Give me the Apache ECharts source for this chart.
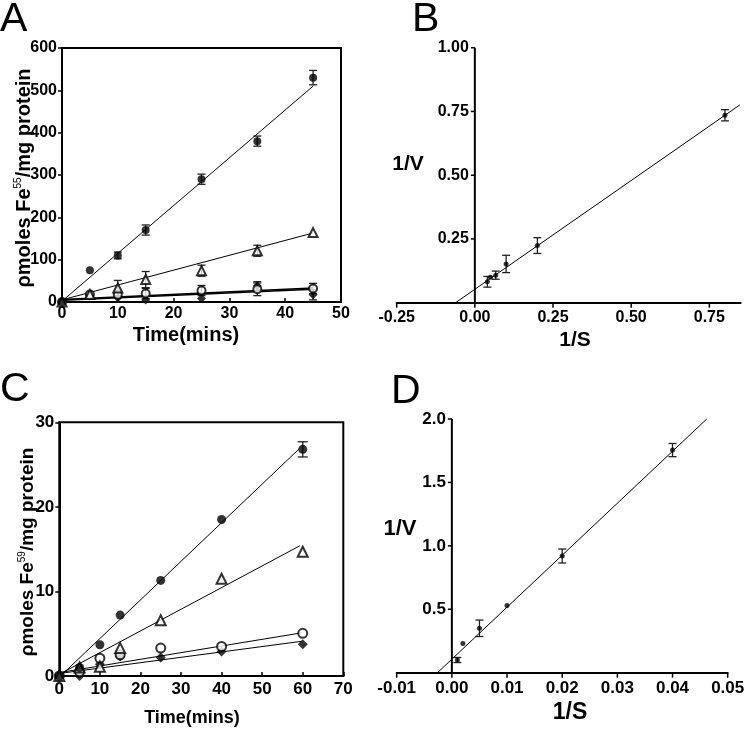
<!DOCTYPE html>
<html>
<head>
<meta charset="utf-8">
<script src="https://cdn.jsdelivr.net/npm/echarts@6/dist/echarts.min.js"></script>
<style>html,body{margin:0;padding:0;background:#fff}#c{width:745px;height:731px}</style>
</head>
<body>
<div id="c"></div>
<script>
// ---------- Panel A (Fe55 uptake vs time) ----------
const timeA = [0, 5, 10, 15, 25, 35, 45];
const aFilledCircle = [0, 75, 110, 170, 290, 380, 530];
const aFilledCircleErr = [0, 0, 8, 12, 12, 12, 17];
const aOpenTriangle = [0, 18, 33, 53, 74, 121, 164];
const aOpenTriangleErr = [0, 0, 18, 19, 13, 13, 0];
const aOpenCircle = [0, 18, 17, 20, 27, 30, 32];
const aOpenCircleErr = [0, 0, 0, 12, 12, 15, 12];
const aFilledDiamond = [0, 15, 10, 5, 8, 38, 17];
const aFilledDiamondErr = [0, 0, 0, 0, 0, 10, 12];
const aFitX = [0, 45];
const aFitFilledCircle = [2, 510];
const aFitOpenTriangle = [5, 163];
const aFitOpenCircle = [6, 33];
const aFitFilledDiamond = [4, 30];

// ---------- Panel B (Lineweaver-Burk, Fe55) ----------
const bInvS = [0.04, 0.05, 0.0667, 0.1, 0.2, 0.8];
const bInvV = [0.082, 0.10, 0.108, 0.152, 0.224, 0.735];
const bErr = [0.021, 0, 0.016, 0.034, 0.031, 0.022];
const bFitX = [-0.0616, 0.848];
const bFitY = [0, 0.776];
const bXTicks = [-0.25, 0, 0.25, 0.5, 0.75];
const bYTicks = [0.25, 0.5, 0.75, 1.0];

// ---------- Panel C (Fe59 uptake vs time) ----------
const timeC = [0, 5, 10, 15, 25, 40, 60];
const cFilledCircle = [0, 1.0, 3.7, 7.2, 11.3, 18.5, 26.8];
const cFilledCircleErr = [0, 0, 0, 0, 0, 0, 0.9];
const cOpenTriangle = [0, 1.0, 1.1, 3.3, 6.6, 11.5, 14.7];
const cOpenCircle = [0, 0.5, 2.1, 2.5, 3.3, 3.5, 5.05];
const cFilledDiamond = [0, 0, 1.4, 2.3, 2.2, 2.9, 3.75];
const cFitFilledCircleX = [0.3, 59], cFitFilledCircleY = [0, 26.8];
const cFitOpenTriangleX = [0, 59.3], cFitOpenTriangleY = [0.2, 15.4];
const cFitOpenCircleX = [0, 59.7], cFitOpenCircleY = [0.4, 5.1];
const cFitFilledDiamondX = [0, 59.7], cFitFilledDiamondY = [0.3, 4.1];

// ---------- Panel D (Lineweaver-Burk, Fe59) ----------
const dInvS = [0.001, 0.002, 0.005, 0.01, 0.02, 0.04];
const dInvV = [0.10, 0.23, 0.35, 0.53, 0.92, 1.755];
const dErr = [0.02, 0, 0.065, 0, 0.055, 0.052];
const dFitX = [-0.0026, 0.0462];
const dFitY = [0, 2.0];
const dXTicks = [-0.01, 0, 0.01, 0.02, 0.03, 0.04, 0.05];
const dYTicks = [0.5, 1.0, 1.5, 2.0];

const FONT = '"Liberation Sans", Arial, sans-serif';
const pairs = (xs, ys) => xs.map((x, i) => [x, ys[i]]);

function scatter(xs, ys, idx, symbol, size, filled) {
  return {
    type: 'scatter', xAxisIndex: idx, yAxisIndex: idx, z: 5,
    symbol: symbol, symbolSize: size,
    itemStyle: filled ? { color: '#000' } : { color: '#fff', borderColor: '#000', borderWidth: 2 },
    data: pairs(xs, ys)
  };
}
function fit(xs, ys, idx, w) {
  return {
    type: 'line', xAxisIndex: idx, yAxisIndex: idx, z: 4, showSymbol: false, symbol: 'none',
    lineStyle: { color: '#000', width: w || 1 }, data: pairs(xs, ys), silent: true
  };
}
function errs(xs, ys, es, idx, cap) {
  const data = xs.map((x, i) => [x, ys[i], es[i]]).filter(d => d[2] > 0);
  return {
    type: 'custom', xAxisIndex: idx, yAxisIndex: idx, z: 3, encode: { x: 0, y: 1 },
    data: data,
    renderItem: function (params, api) {
      const x = api.value(0), y = api.value(1), e = api.value(2);
      const t = api.coord([x, y + e]), b = api.coord([x, y - e]);
      const st = { stroke: '#222', lineWidth: 1.3 };
      return {
        type: 'group', children: [
          { type: 'line', shape: { x1: t[0], y1: t[1], x2: b[0], y2: b[1] }, style: st },
          { type: 'line', shape: { x1: t[0] - cap, y1: t[1], x2: t[0] + cap, y2: t[1] }, style: st },
          { type: 'line', shape: { x1: b[0] - cap, y1: b[1], x2: b[0] + cap, y2: b[1] }, style: st }
        ]
      };
    }
  };
}

function valAxis(o) {
  return {
    type: 'value', gridIndex: o.grid, min: o.min, max: o.max, interval: o.interval,
    show: o.show !== false,
    splitLine: { show: false },
    axisLine: { show: true, onZero: false, lineStyle: { color: '#000', width: 2 } },
    axisTick: { show: o.tick !== false, inside: !!o.tickInside, length: o.tickLen || 4, lineStyle: { color: '#000', width: 1.5 } },
    axisLabel: { show: o.label !== false, color: '#000', fontFamily: FONT, fontWeight: 'bold', fontSize: o.fontSize, margin: o.margin,
      showMinLabel: true, showMaxLabel: true, hideOverlap: false }
  };
}

const baseGraphic = [
  { type: 'text', x: 0, y: 20, style: { text: 'A', font: '41px ' + FONT, fill: '#000', align: 'left', verticalAlign: 'middle' } },
  { type: 'text', x: 412, y: 20, style: { text: 'B', font: '41px ' + FONT, fill: '#000', align: 'left', verticalAlign: 'middle' } },
  { type: 'text', x: 0, y: 390, style: { text: 'C', font: '41px ' + FONT, fill: '#000', align: 'left', verticalAlign: 'middle' } },
  { type: 'text', x: 391, y: 392, style: { text: 'D', font: '41px ' + FONT, fill: '#000', align: 'left', verticalAlign: 'middle' } },
  { type: 'text', x: 24, y: 178, rotation: Math.PI / 2,
    style: { text: 'ρmoles Fe{s|55}/mg protein', fontFamily: FONT, fontWeight: 'bold', fontSize: 20, fill: '#000',
      align: 'center', verticalAlign: 'middle', lineHeight: 22,
      rich: { s: { fontFamily: FONT, fontSize: 10, fontWeight: 'normal', verticalAlign: 'top', fill: '#000', lineHeight: 22 } } } },
  { type: 'text', x: 28, y: 552, rotation: Math.PI / 2,
    style: { text: 'ρmoles Fe{s|59}/mg protein', fontFamily: FONT, fontWeight: 'bold', fontSize: 19, fill: '#000',
      align: 'center', verticalAlign: 'middle', lineHeight: 21,
      rich: { s: { fontFamily: FONT, fontSize: 10, fontWeight: 'normal', verticalAlign: 'top', fill: '#000', lineHeight: 21 } } } },
  { type: 'text', x: 186, y: 335, style: { text: 'Time(mins)', font: 'bold 20px ' + FONT, fill: '#000', align: 'center', verticalAlign: 'middle' } },
  { type: 'text', x: 192, y: 718, style: { text: 'Time(mins)', font: 'bold 18px ' + FONT, fill: '#000', align: 'center', verticalAlign: 'middle' } },
  { type: 'text', x: 408, y: 164, style: { text: '1/V', font: 'bold 21px ' + FONT, fill: '#000', align: 'center', verticalAlign: 'middle' } },
  { type: 'text', x: 575, y: 340, style: { text: '1/S', font: 'bold 21px ' + FONT, fill: '#000', align: 'center', verticalAlign: 'middle' } },
  { type: 'text', x: 400, y: 529, style: { text: '1/V', font: 'bold 22px ' + FONT, fill: '#000', align: 'center', verticalAlign: 'middle' } },
  { type: 'text', x: 570, y: 713, style: { text: '1/S', font: 'bold 23px ' + FONT, fill: '#000', align: 'center', verticalAlign: 'middle' } }
];

const chart = echarts.init(document.getElementById('c'), null, { renderer: 'canvas' });

const option = {
  animation: false,
  backgroundColor: '#fff',
  grid: [
    { left: 62, top: 48, width: 279, height: 254, show: true, borderColor: '#000', borderWidth: 2, backgroundColor: 'transparent' },
    { left: 396.7, top: 47.7, width: 343.9, height: 255, show: false },
    { left: 59.3, top: 422.3, width: 284, height: 253.7, show: true, borderColor: '#000', borderWidth: 2, backgroundColor: 'transparent' },
    { left: 396.7, top: 419, width: 331, height: 253.7, show: false }
  ],
  xAxis: [
    valAxis({ grid: 0, min: 0, max: 50, interval: 10, tickInside: true, fontSize: 16, margin: 4 }),
    valAxis({ grid: 1, min: -0.25, max: 0.85, interval: 0.25, tick: false, label: false }),
    valAxis({ grid: 2, min: 0, max: 70, interval: 10, tickInside: true, fontSize: 17, margin: 5 }),
    valAxis({ grid: 3, min: -0.01, max: 0.05, interval: 0.01, tick: false, label: false })
  ],
  yAxis: [
    valAxis({ grid: 0, min: 0, max: 600, interval: 100, fontSize: 16, margin: 5 }),
    valAxis({ grid: 1, min: 0, max: 1, interval: 0.25, show: false }),
    valAxis({ grid: 2, min: 0, max: 30, interval: 10, fontSize: 17, margin: 5 }),
    valAxis({ grid: 3, min: 0, max: 2, interval: 0.5, show: false })
  ],
  series: [
    // A
    fit(aFitX, aFitFilledCircle, 0),
    fit(aFitX, aFitOpenTriangle, 0),
    fit(aFitX, aFitOpenCircle, 0, 1.4),
    fit(aFitX, aFitFilledDiamond, 0, 1.4),
    errs(timeA, aFilledCircle, aFilledCircleErr, 0, 4),
    errs(timeA, aOpenTriangle, aOpenTriangleErr, 0, 4),
    errs(timeA, aOpenCircle, aOpenCircleErr, 0, 4),
    errs(timeA, aFilledDiamond, aFilledDiamondErr, 0, 4),
    scatter(timeA, aFilledDiamond, 0, 'diamond', 9, true),
    scatter(timeA, aOpenCircle, 0, 'circle', 8, false),
    scatter(timeA, aOpenTriangle, 0, 'triangle', 9, false),
    scatter(timeA, aFilledCircle, 0, 'circle', 8, true),
    // B
    fit(bFitX, bFitY, 1),
    errs(bInvS, bInvV, bErr, 1, 4),
    scatter(bInvS, bInvV, 1, 'circle', 5, true),
    // C
    fit(cFitFilledCircleX, cFitFilledCircleY, 2),
    fit(cFitOpenTriangleX, cFitOpenTriangleY, 2),
    fit(cFitOpenCircleX, cFitOpenCircleY, 2),
    fit(cFitFilledDiamondX, cFitFilledDiamondY, 2),
    errs(timeC, cFilledCircle, cFilledCircleErr, 2, 5),
    scatter(timeC, cFilledDiamond, 2, 'diamond', 10, true),
    scatter(timeC, cOpenCircle, 2, 'circle', 9, false),
    scatter(timeC, cOpenTriangle, 2, 'triangle', 10, false),
    scatter(timeC, cFilledCircle, 2, 'circle', 9, true),
    // D
    fit(dFitX, dFitY, 3),
    errs(dInvS, dInvV, dErr, 3, 4),
    scatter(dInvS, dInvV, 3, 'circle', 5, true)
  ],
  graphic: baseGraphic
};
chart.setOption(option);

// Axes of B and D crossing at x = 0: drawn through the grids' own scales
const axisGraphic = [];
[
  { xt: bXTicks, yt: bYTicks, gi: 1, xdec: 2, ydec: 2, fs: 16, ymax: 1 },
  { xt: dXTicks, yt: dYTicks, gi: 3, xdec: 2, ydec: 1, fs: 17, ymax: 2 }
].forEach(c => {
  const toPx = (x, y) => chart.convertToPixel({ gridIndex: c.gi }, [x, y]);
  const y0 = toPx(0, 0), y1 = toPx(0, c.ymax);
  axisGraphic.push({ type: 'line', z: 100, shape: { x1: y0[0], y1: y0[1] + 1, x2: y1[0], y2: y1[1] },
    style: { stroke: '#000', lineWidth: 2 } });
  c.yt.forEach(v => {
    const p = toPx(0, v);
    axisGraphic.push({ type: 'line', z: 100, shape: { x1: p[0] - 4, y1: p[1], x2: p[0], y2: p[1] },
      style: { stroke: '#000', lineWidth: 1.5 } });
    axisGraphic.push({ type: 'text', z: 100, x: p[0] - 6, y: p[1],
      style: { text: v.toFixed(c.ydec), font: 'bold ' + c.fs + 'px ' + FONT, fill: '#000', align: 'right', verticalAlign: 'middle' } });
  });
  c.xt.forEach(v => {
    const p = toPx(v, 0);
    axisGraphic.push({ type: 'line', z: 100, shape: { x1: p[0], y1: p[1], x2: p[0], y2: p[1] + 5 },
      style: { stroke: '#000', lineWidth: 1.5 } });
    axisGraphic.push({ type: 'text', z: 100, x: p[0], y: p[1] + 7,
      style: { text: v.toFixed(c.xdec), font: 'bold ' + c.fs + 'px ' + FONT, fill: '#000', align: 'center', verticalAlign: 'top' } });
  });
});
chart.setOption({ graphic: baseGraphic.concat(axisGraphic) });
</script>
</body>
</html>
